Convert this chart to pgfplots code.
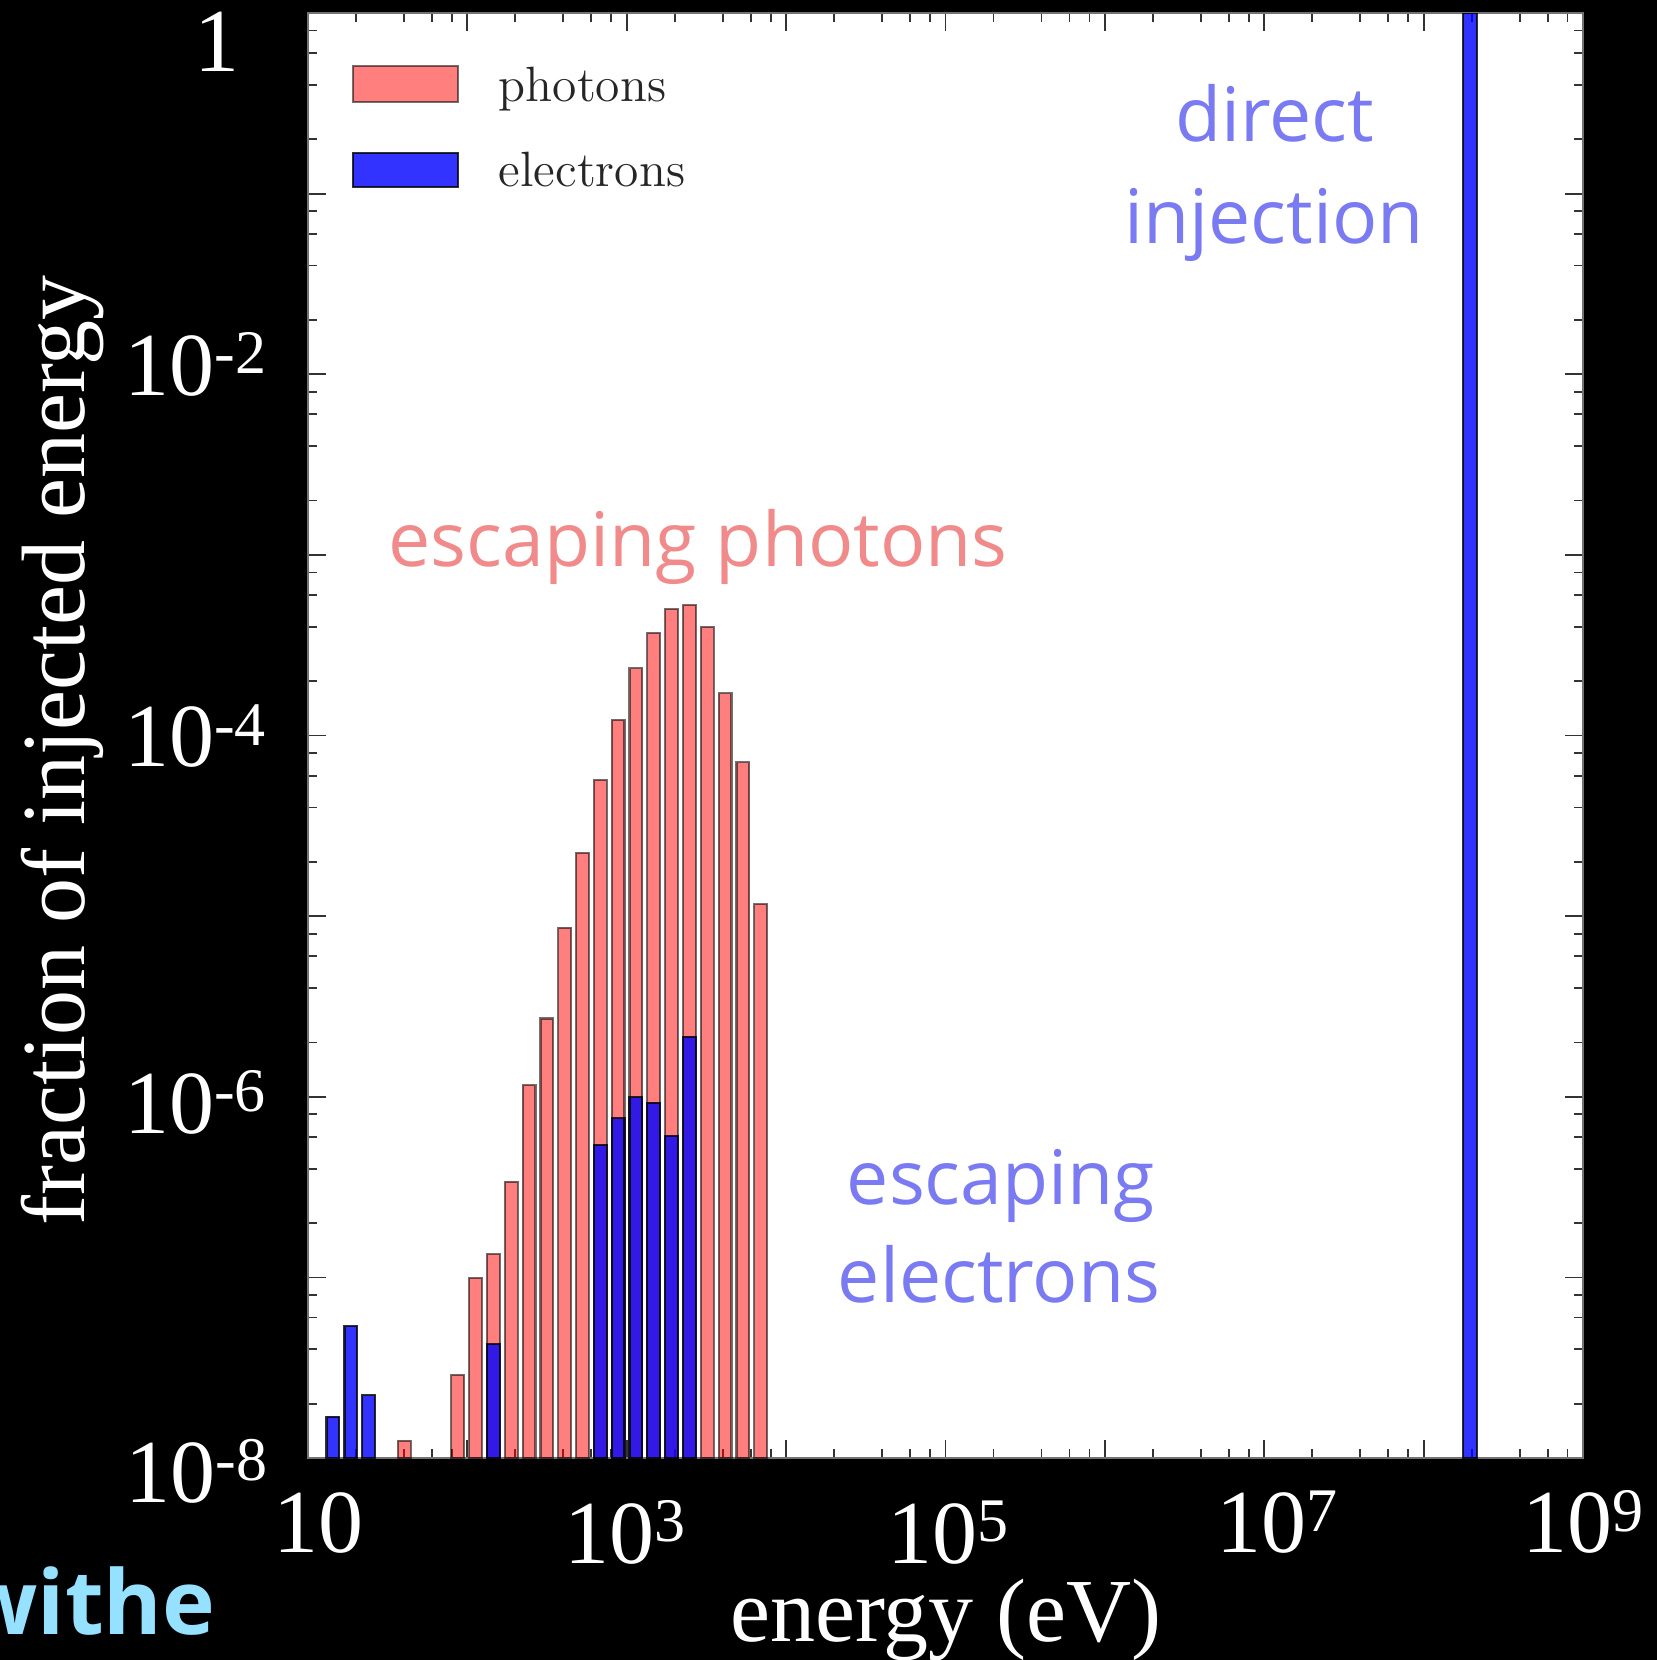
\documentclass[border=0pt]{standalone}
\usepackage{fontspec}
\usepackage{pgfplots}
\pgfplotsset{compat=1.18}
\newfontfamily\tms{Liberation Serif}
\newfontfamily\gill{Open Sans}
\definecolor{salm}{RGB}{241,139,139}
\definecolor{viol}{RGB}{122,122,242}
\definecolor{cyanish}{RGB}{150,225,255}
\newcommand\sups[1]{\raisebox{5.3pt}{\fontsize{15.5}{15.5}\selectfont #1}}
\tikzset{lab/.style={inner sep=0pt, text=white, font=\tms\fontsize{22.5}{27}\selectfont},
         ann/.style={inner sep=0pt, font=\gill\fontsize{18.8}{22}\selectfont}}
\begin{document}
\begin{tikzpicture}
\useasboundingbox (0,0) rectangle (414.25pt,-415pt);
\clip (0,0) rectangle (414.25pt,-415pt);
\fill[black] (0,0) rectangle (414.25pt,-415pt);
\begin{axis}[
  at={(77pt,-364.5pt)}, anchor=south west, scale only axis,
  width=318.75pt, height=361.25pt,
  xmode=log, ymode=log, xmin=10, xmax=1e9, ymin=1e-8, ymax=1,
  log origin y=infty,
  axis background/.style={fill=white},
  xtick={1e1,1e2,1e3,1e4,1e5,1e6,1e7,1e8,1e9},
  ytick={1e-8,1e-7,1e-6,1e-5,1e-4,1e-3,1e-2,1e-1,1},
  minor xtick={20,40,60,80,200,400,600,800,2000,4000,6000,8000,2e4,4e4,6e4,8e4,2e5,4e5,6e5,8e5,2e6,4e6,6e6,8e6,2e7,4e7,6e7,8e7,2e8,4e8,6e8,8e8},
  minor ytick={2e-8,4e-8,6e-8,8e-8,2e-7,4e-7,6e-7,8e-7,2e-6,4e-6,6e-6,8e-6,2e-5,4e-5,6e-5,8e-5,2e-4,4e-4,6e-4,8e-4,2e-3,4e-3,6e-3,8e-3,2e-2,4e-2,6e-2,8e-2,0.2,0.4,0.6,0.8},
  xticklabels={}, yticklabels={},
  major tick length=4.5pt, minor tick length=2.25pt,
  every tick/.style={draw=black!80, line width=0.45pt},
  axis line style={draw=black!55, line width=0.6pt},
]
\addplot[ybar, bar width=3.2pt, bar shift=0pt, fill=red, fill opacity=0.5, draw=black, draw opacity=0.55, line width=0.55pt] coordinates {
(40.19,1.247e-8) (87.0,2.891e-8) (112.6,9.93e-8) (145.6,1.346e-7) (188.4,3.39e-7)
(243.7,1.161e-6) (315.2,2.716e-6) (407.7,8.63e-6) (527.8,2.244e-5) (682.5,5.675e-5)
(883.0,1.219e-4) (1142,2.355e-4) (1477,3.707e-4) (1911,5.01e-4) (2473,5.272e-4)
(3199,4.0e-4) (4139,1.714e-4) (5354,7.11e-5) (6926,1.167e-5)};
\addplot[ybar, bar width=3.2pt, bar shift=0pt, fill=blue, fill opacity=0.8, draw=black, draw opacity=0.8, line width=0.55pt] coordinates {
(14.35,1.694e-8) (18.56,5.38e-8) (24.01,2.223e-8) (145.6,4.276e-8)
(682.5,5.41e-7) (883.0,7.60e-7) (1142,9.93e-7) (1477,9.27e-7) (1911,6.07e-7) (2473,2.153e-6)};
\addplot[ybar, bar width=3.6pt, bar shift=0pt, fill=blue, fill opacity=0.8, draw=black, draw opacity=0.8, line width=0.55pt] coordinates {(1.954e8,1)};
\end{axis}
% legend
\fill[red, fill opacity=0.5] (88.2pt,-16.4pt) rectangle (114.6pt,-25.4pt);
\draw[black, opacity=0.55, line width=0.5pt] (88.2pt,-16.4pt) rectangle (114.6pt,-25.4pt);
\fill[blue, fill opacity=0.8] (88.2pt,-38.25pt) rectangle (114.6pt,-46.75pt);
\draw[black, opacity=0.8, line width=0.5pt] (88.2pt,-38.25pt) rectangle (114.6pt,-46.75pt);
\node[anchor=base west, inner sep=0pt, text=black!85, font=\fontsize{12.4}{14}\selectfont] at (124.5pt,-25.4pt) {photons};
\node[anchor=base west, inner sep=0pt, text=black!85, font=\fontsize{12.4}{14}\selectfont] at (124.5pt,-46.7pt) {electrons};
% tick labels
\node[lab, anchor=base east] at (60pt,-17.75pt) {1};
\node[lab, anchor=base east] at (66.75pt,-98.75pt) {10\sups{-2}};
\node[lab, anchor=base east] at (66.67pt,-191.67pt) {10\sups{-4}};
\node[lab, anchor=base east] at (66.67pt,-283.25pt) {10\sups{-6}};
\node[lab, anchor=base east] at (67pt,-375.5pt) {10\sups{-8}};
\node[lab, anchor=base] at (79.5pt,-388pt) {10};
\node[lab, anchor=base] at (156.25pt,-390.75pt) {10\sups{3}};
\node[lab, anchor=base] at (236.9pt,-390.75pt) {10\sups{5}};
\node[lab, anchor=base] at (319.25pt,-388.2pt) {10\sups{7}};
\node[lab, anchor=base] at (395.75pt,-388.2pt) {10\sups{9}};
% axis labels
\node[lab, anchor=base] at (236.5pt,-410.4pt) {energy (eV)};
\node[lab, anchor=base, rotate=90] at (21pt,-187.6pt) {fraction of injected energy};
% annotations
\node[ann, anchor=base, text=salm] at (174.5pt,-141.5pt) {escaping photons};
\node[ann, anchor=base, text=viol] at (318.7pt,-35.4pt) {direct};
\node[ann, anchor=base, text=viol] at (318.55pt,-60.8pt) {injection};
\node[ann, anchor=base, text=viol] at (250.25pt,-301pt) {escaping};
\node[ann, anchor=base, text=viol] at (249.75pt,-325.5pt) {electrons};
% slide text fragment
\node[anchor=base east, inner sep=0pt, text=cyanish, font=\gill\bfseries\fontsize{22.3}{26}\selectfont] at (54pt,-408.5pt) {withe};
\end{tikzpicture}
\end{document}
